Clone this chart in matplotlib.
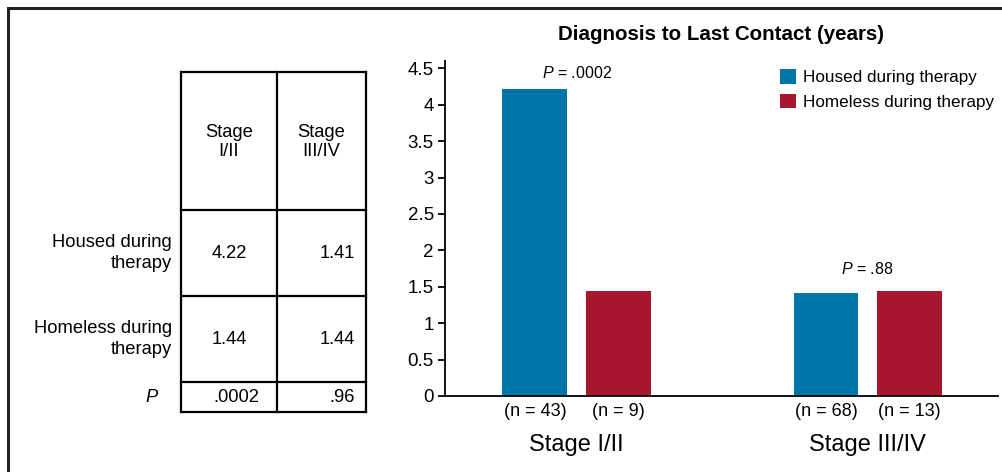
import matplotlib
matplotlib.use("Agg")
import matplotlib.pyplot as plt
from matplotlib import font_manager
import numpy as np

plt.rcParams['font.family'] = ['Liberation Sans', 'DejaVu Sans']
plt.rcParams['mathtext.fontset'] = 'custom'
plt.rcParams['mathtext.rm'] = 'Liberation Sans'
plt.rcParams['mathtext.it'] = 'Liberation Sans:italic'

_names = {f.name for f in font_manager.fontManager.ttflist}
NARROW = 'Liberation Sans Narrow' if 'Liberation Sans Narrow' in _names else 'Liberation Sans'

# data
stages         = ['Stage I/II', 'Stage III/IV']
table_heads    = ['Stage\nI/II', 'Stage\nIII/IV']
groups         = ['Housed during therapy', 'Homeless during therapy']
row_labels     = ['Housed during\ntherapy', 'Homeless during\ntherapy']
housed_years   = [4.22, 1.41]
homeless_years = [1.44, 1.44]
housed_n       = [43, 68]
homeless_n     = [9, 13]
bar_p          = ['.0002', '.88']
table_p        = ['.0002', '.96']

BLUE = '#0075a8'
RED  = '#a8162e'

W, H = 1002, 472
fig = plt.figure(figsize=(W / 100, H / 100), dpi=100)

# full-figure overlay in pixel coords (frame + table)
bg = fig.add_axes([0, 0, 1, 1])
bg.set_xlim(0, W)
bg.set_ylim(H, 0)
bg.axis('off')
bg.plot([8, 8, W], [H, 8, 8], color='#222222', lw=2.2, solid_joinstyle='miter')

# table
col_x = [181, 277, 366]
row_y = [72, 210, 296, 382, 412]
for x in col_x:
    bg.plot([x, x], [row_y[0], row_y[-1]], color='black', lw=1.6)
for y in row_y:
    bg.plot([col_x[0], col_x[-1]], [y, y], color='black', lw=1.6)

fs = 13.2
for j, head in enumerate(table_heads):
    cx = (col_x[j] + col_x[j + 1]) / 2
    bg.text(cx, 142, head, ha='center', va='center', fontsize=fs, linespacing=1.2)
for i, lab in enumerate(row_labels):
    cy = (row_y[i + 1] + row_y[i + 2]) / 2
    bg.text(172, cy, lab, ha='right', va='center', fontsize=fs, linespacing=1.25)
table_vals = [housed_years, homeless_years]
for i, vals in enumerate(table_vals):
    cy = (row_y[i + 1] + row_y[i + 2]) / 2
    bg.text((col_x[0] + col_x[1]) / 2, cy, f"{vals[0]:.2f}", ha='center', va='center', fontsize=fs)
    bg.text(col_x[2] - 11, cy, f"{vals[1]:.2f}", ha='right', va='center', fontsize=fs)
py = (row_y[3] + row_y[4]) / 2
bg.text(158, py, 'P', ha='right', va='center', fontsize=fs, style='italic')
bg.text((col_x[0] + col_x[1]) / 2 + 7, py, table_p[0], ha='center', va='center', fontsize=fs)
bg.text(col_x[2] - 11, py, table_p[1], ha='right', va='center', fontsize=fs)

# bar chart
ax_l, ax_r, ax_t, ax_b = 445, 998, 61, 396
ax = fig.add_axes([ax_l / W, 1 - ax_b / H, (ax_r - ax_l) / W, (ax_b - ax_t) / H])
x = np.arange(len(stages))
bw, off = 0.223, 0.143
ax.bar(x - off, housed_years, bw, color=BLUE, label=groups[0])
ax.bar(x + off, homeless_years, bw, color=RED, label=groups[1])
ax.set_xlim(-0.452, 1.448)
ax.set_ylim(0, 4.6)
ax.set_yticks(np.arange(0, 4.51, 0.5))
ax.set_yticklabels(['0', '0.5', '1', '1.5', '2', '2.5', '3', '3.5', '4', '4.5'])
ax.set_xticks([])
for s in ('top', 'right'):
    ax.spines[s].set_visible(False)
ax.spines['left'].set_linewidth(1.3)
ax.spines['bottom'].set_linewidth(1.3)
ax.tick_params(axis='y', length=5, width=1.3, labelsize=13.5, pad=3)

p_offsets = [11, 16]
for i in range(len(stages)):
    top = max(housed_years[i], homeless_years[i])
    ax.annotate(f"$P$ = {bar_p[i]}", (x[i], top), xytext=(0, p_offsets[i]),
                textcoords='offset points', ha='center', va='center', fontsize=11.5)
    for xx, n in ((x[i] - off, housed_n[i]), (x[i] + off, homeless_n[i])):
        ax.annotate(f"(n = {n})", (xx, 0), xycoords=('data', 'axes fraction'),
                    xytext=(0, -11), textcoords='offset points',
                    ha='center', va='center', fontsize=13)
    ax.annotate(stages[i], (x[i], 0), xycoords=('data', 'axes fraction'),
                xytext=(0, -35.5), textcoords='offset points',
                ha='center', va='center', fontsize=17, family=NARROW)

fig.text((ax_l + ax_r) / 2 / W, 1 - 35 / H, 'Diagnosis to Last Contact (years)',
         ha='center', va='center', fontsize=14.8, fontweight='bold')

ax.legend(loc='upper left', bbox_to_anchor=(780 / W, 1 - 69 / H),
          bbox_transform=fig.transFigure, frameon=False, fontsize=12.3,
          borderpad=0, borderaxespad=0, handlelength=0.94, handleheight=0.94,
          handletextpad=0.4, labelspacing=0.5)

fig.savefig('out.png', dpi=100)
